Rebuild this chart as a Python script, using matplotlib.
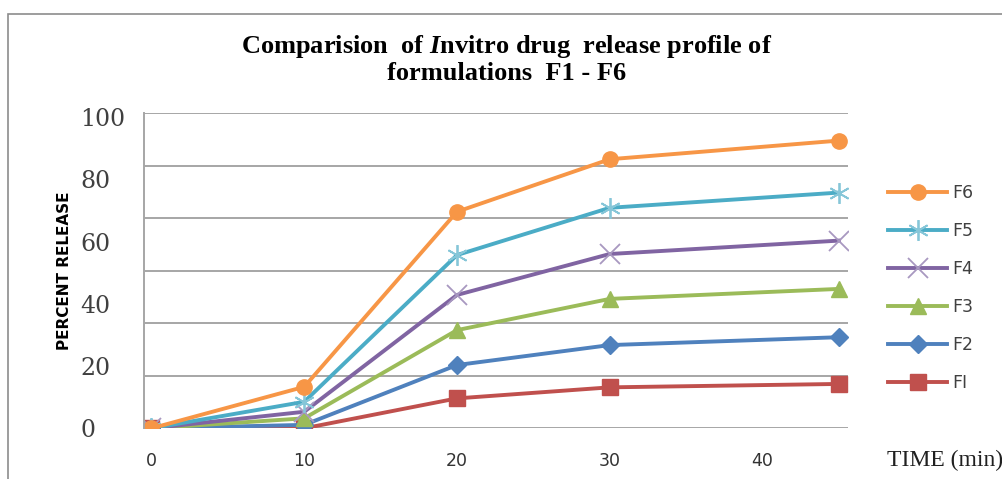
import matplotlib
matplotlib.use('Agg')
import matplotlib.pyplot as plt
from matplotlib.patches import Rectangle

# time points (min) and percent release for each formulation
time_min = [0, 10, 20, 30, 45]
f1 = [0, 0, 11.4, 15.6, 16.9]
f2 = [0, 1.3, 24.1, 31.7, 34.7]
f3 = [0, 3.8, 37.4, 49.3, 53.1]
f4 = [0, 6.3, 50.8, 66.4, 71.5]
f5 = [0, 10.1, 66.0, 84.0, 89.8]
f6 = [0, 15.8, 82.5, 102.5, 109.6]

series_names = ['FI', 'F2', 'F3', 'F4', 'F5', 'F6']
x_ticks = [0, 10, 20, 30, 40]
y_labels = [0, 20, 40, 60, 80, 100]

plt.rcParams['mathtext.fontset'] = 'custom'
plt.rcParams['mathtext.it'] = 'Liberation Serif:italic:bold'
plt.rcParams['mathtext.rm'] = 'Liberation Serif:bold'

fig = plt.figure(figsize=(10.03, 4.79), dpi=100)
fig.patch.set_facecolor('white')

# outer chart border (runs off right/bottom edge like the screenshot)
fig.add_artist(Rectangle((8 / 1003, -0.05), 1.1, 1 - 14 / 479 + 0.05,
                         transform=fig.transFigure, fill=False,
                         edgecolor='#8c8c8c', linewidth=1.2))

ax = fig.add_axes([144 / 1003, 1 - 428.3 / 479, 704 / 1003, 315 / 479])

styles = [
    dict(color='#C0504D', marker='s', ms=11, mec='#C0504D'),
    dict(color='#4F81BD', marker='D', ms=9, mec='#4F81BD'),
    dict(color='#9BBB59', marker='^', ms=11, mec='#9BBB59'),
    dict(color='#8064A2', marker='x', ms=14, mec='#a898c0', mew=1.3),
    dict(color='#4BACC6', marker=(6, 2, 0), ms=15, mec='#86c6d8', mew=1.3),
    dict(color='#F79646', marker='o', ms=11, mec='#F79646'),
]
data = [f1, f2, f3, f4, f5, f6]
handles = []
for vals, name, st in zip(data, series_names, styles):
    h, = ax.plot(time_min, vals, lw=2.8, label=name, **st)
    handles.append(h)

ax.set_xlim(-0.49, 45.6)
ax.set_ylim(0, 120)
ax.set_yticks(range(0, 121, 20))
ax.yaxis.grid(True, color='#a6a6a6', lw=1.4)
ax.set_axisbelow(True)
ax.tick_params(axis='y', left=False, labelleft=False)
ax.set_xticks(x_ticks)
ax.tick_params(axis='x', length=0, pad=17, labelsize=12.5, labelcolor='#333333')
for side in ['top', 'right', 'bottom']:
    ax.spines[side].set_visible(False)
ax.spines['left'].set_color('#a6a6a6')
ax.spines['left'].set_linewidth(1.4)

# value labels as they appear on the left
sec = ax.secondary_yaxis('left', functions=(lambda v: v / 1.185, lambda v: v * 1.185))
sec.set_yticks(y_labels)
sec.tick_params(length=0, pad=46, labelsize=17, labelcolor='#404040')
for lbl in sec.get_yticklabels():
    lbl.set_family('DejaVu Serif')
    lbl.set_horizontalalignment('left')
sec.spines['left'].set_visible(False)
sec.set_ylabel('PERCENT RELEASE', fontsize=11, fontweight='bold', labelpad=6)

fig.text(0.505, 1 - 59 / 479,
         r'Comparision  of $\mathit{I}$nvitro drug  release profile of' + '\n' + 'formulations  F1 - F6',
         ha='center', va='center', fontsize=19, fontweight='bold',
         family='Liberation Serif', linespacing=1.1)

fig.text(1003 / 1003, 1 - 460 / 479, 'TIME (min)', ha='right', va='center',
         fontsize=17, family='Liberation Serif', color='#202020')

fig.legend(handles[::-1], series_names[::-1], loc='center left',
           bbox_to_anchor=(888 / 1003, 1 - 288 / 479), frameon=False,
           fontsize=12.5, handlelength=3.4, labelspacing=1.15,
           handletextpad=0.3, borderpad=0, borderaxespad=0,
           labelcolor='#404040')

fig.savefig('out.png', dpi=100, facecolor='white')
